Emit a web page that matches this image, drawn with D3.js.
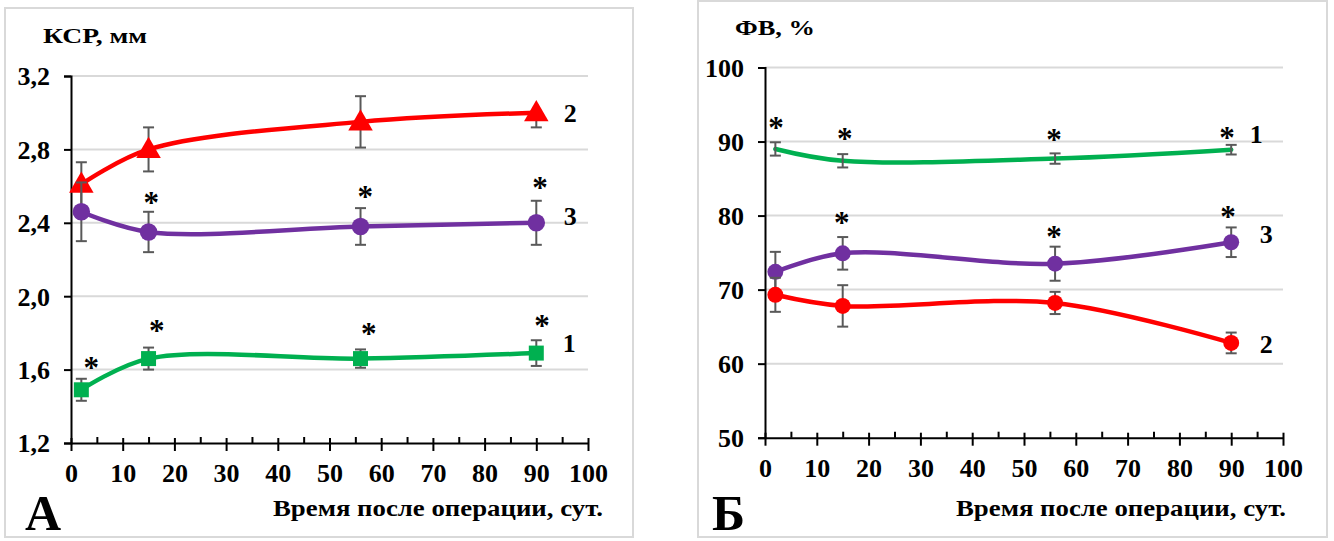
<!DOCTYPE html>
<html>
<head>
<meta charset="utf-8">
<script src="https://cdn.jsdelivr.net/npm/d3@7"></script>
<style>
  body { margin: 0; background: #fff; }
  svg { display: block; }
  svg text { font-family: 'Liberation Serif', 'Times New Roman', serif; font-weight: bold; }
</style>
</head>
<body>
<div id="chart"></div>
<script>
// days after surgery
var days = [2, 15, 56, 90];
var xTickValues = [0, 10, 20, 30, 40, 50, 60, 70, 80, 90, 100];
var xMinorTicks = [5, 15, 25, 35, 45, 55, 65, 75, 85, 95];

// panel A: КСР, мм
var ksrTicks = [1.2, 1.6, 2.0, 2.4, 2.8, 3.2];
var ksr1 = [1.49, 1.66, 1.66, 1.69];
var ksr1Err = [0.06, 0.06, 0.05, 0.07];
var ksr2 = [2.61, 2.80, 2.95, 3.00];
var ksr2ErrUp = [0.12, 0.12, 0.14, 0.01];
var ksr2ErrDown = [0.12, 0.12, 0.14, 0.08];
var ksr3 = [2.46, 2.35, 2.38, 2.40];
var ksr3Err = [0.16, 0.11, 0.10, 0.12];
var ksrStars = [[3.9, 1.64], [16.6, 1.84], [57.6, 1.825], [91.1, 1.87],
                [15.5, 2.54], [56.9, 2.57], [90.7, 2.62]];
var ksrLabels = [['2', 2.996], ['3', 2.434], ['1', 1.742]];

// panel Б: ФВ, %
var fvTicks = [50, 60, 70, 80, 90, 100];
var fv1 = [89.0, 87.4, 87.7, 88.9];
var fv1Err = [0.9, 0.9, 0.7, 0.65];
var fv2 = [69.3, 67.8, 68.2, 62.8];
var fv2Err = [2.3, 2.8, 1.5, 1.4];
var fv3 = [72.4, 74.9, 73.5, 76.4];
var fv3Err = [2.7, 2.2, 2.3, 2.0];
var fvStars = [[2.1, 92.6], [15.4, 91.1], [55.8, 90.9], [89.2, 91.2],
               [14.8, 79.7], [55.8, 77.8], [89.4, 80.5]];
var fvLabels = [['1', 90.95], ['3', 77.45], ['2', 62.7]];

var GREEN = '#00b050', RED = '#ff0000', PURPLE = '#7030a0';
var SERIF = "'Liberation Serif', 'Times New Roman', serif";

(function(){
  'use strict';

  var svg = d3.select('#chart').append('svg').attr('width', 1334).attr('height', 541);

  function styleAxis(a) {
    a.attr('font-family', SERIF).attr('font-size', 26).attr('font-weight', 'bold');
    a.select('.domain').attr('stroke', '#000').attr('stroke-width', 2);
    a.selectAll('.tick line').attr('stroke', '#000').attr('stroke-width', 2);
    a.selectAll('.tick text').attr('font-family', SERIF).attr('font-size', 26).attr('fill', '#000');
  }

  function drawPanel(p) {
    var g = svg.append('g');
    g.append('rect').attr('x', p.frame[0]).attr('y', p.frame[1])
      .attr('width', p.frame[2] - p.frame[0]).attr('height', p.frame[3] - p.frame[1])
      .attr('fill', 'none').attr('stroke', '#d9d9d9').attr('stroke-width', 2);

    var x = d3.scaleLinear().domain([0, 100]).range([p.x0, p.x1]);
    var y = d3.scaleLinear().domain(p.yDomain).range([p.y1, p.y0]);

    // gridlines
    g.selectAll('.grid').data(p.yTicks.slice(1)).enter().append('line')
      .attr('x1', p.x0).attr('x2', p.x1)
      .attr('y1', function(d){ return y(d); }).attr('y2', function(d){ return y(d); })
      .attr('stroke', '#d9d9d9').attr('stroke-width', 2);

    // y axis
    var ya = g.append('g').attr('transform', 'translate(' + p.x0 + ',0)')
      .call(d3.axisLeft(y).tickValues(p.yTicks).tickSize(7).tickFormat(p.yFormat));
    styleAxis(ya);
    ya.selectAll('.tick text').attr('x', -21).attr('dy', '0.34em');

    // x axis, minor ticks inside
    var xm = g.append('g').attr('transform', 'translate(0,' + p.y1 + ')')
      .call(d3.axisBottom(x).tickValues(xMinorTicks).tickSize(-6).tickFormat(''));
    xm.select('.domain').remove();
    xm.selectAll('.tick line').attr('stroke', '#000').attr('stroke-width', 2);

    var xa = g.append('g').attr('transform', 'translate(0,' + p.y1 + ')')
      .call(d3.axisBottom(x).tickValues(xTickValues).tickSize(8).tickSizeOuter(0));
    styleAxis(xa);
    xa.selectAll('.tick line').attr('y1', -5);
    xa.selectAll('.tick text').attr('y', 39).attr('dy', 0);

    // titles
    g.append('text').attr('x', p.yTitle[1]).attr('y', p.yTitle[2])
      .attr('font-size', 22).attr('textLength', p.yTitle[3]).attr('lengthAdjust', 'spacingAndGlyphs')
      .text(p.yTitle[0]);
    g.append('text').attr('x', p.xTitleEnd[0] - 330).attr('y', p.xTitleEnd[1])
      .attr('font-size', 23).attr('textLength', 330).attr('lengthAdjust', 'spacingAndGlyphs')
      .text('Время после операции, сут.');
    g.append('text').attr('x', p.letter[1]).attr('y', p.letter[2])
      .attr('font-size', 50).text(p.letter[0]);

    var line = d3.line()
      .x(function(d){ return x(d[0]); })
      .y(function(d){ return y(d[1]); })
      .curve(d3.curveCatmullRom.alpha(0.5));

    p.series.forEach(function(s) {
      var pts = days.map(function(d, i){ return [d, s.values[i]]; });
      g.append('path').datum(pts).attr('d', line)
        .attr('fill', 'none').attr('stroke', s.color).attr('stroke-width', 4.5)
        .attr('stroke-linecap', 'round');

      var eb = g.append('g').attr('stroke', '#595959').attr('stroke-width', 2);
      days.forEach(function(d, i) {
        var up = s.errUp[i], dn = s.errDown[i];
        var cx = x(d), yt = y(s.values[i] + up), yb = y(s.values[i] - dn);
        eb.append('line').attr('x1', cx).attr('x2', cx).attr('y1', yt).attr('y2', yb);
        eb.append('line').attr('x1', cx - 5.5).attr('x2', cx + 5.5).attr('y1', yt).attr('y2', yt);
        eb.append('line').attr('x1', cx - 5.5).attr('x2', cx + 5.5).attr('y1', yb).attr('y2', yb);
      });

      if (s.marker) {
        var sym = d3.symbol().type(s.marker).size(s.size);
        g.selectAll(null).data(pts).enter().append('path')
          .attr('d', sym)
          .attr('transform', function(d){
            return 'translate(' + x(d[0]) + ',' + (y(d[1]) + (s.marker === d3.symbolTriangle ? 1.5 : 0)) + ')';
          })
          .attr('fill', s.color);
      }
    });

    // significance marks
    g.selectAll(null).data(p.stars).enter().append('text')
      .attr('x', function(d){ return x(d[0]); })
      .attr('y', function(d){ return y(d[1]); })
      .attr('dy', '0.5em').attr('text-anchor', 'middle')
      .attr('font-size', 31).text('*');

    // series numbers
    g.selectAll(null).data(p.labels).enter().append('text')
      .attr('x', function(d, i){ return x(90) + p.labelDx[i]; })
      .attr('y', function(d){ return y(d[1]); })
      .attr('dy', '0.34em').attr('text-anchor', 'middle')
      .attr('font-size', 26).text(function(d){ return d[0]; });
  }

  drawPanel({
    frame: [5, 8, 633, 537],
    x0: 71, x1: 588, y0: 76, y1: 443,
    yDomain: [1.2, 3.2], yTicks: ksrTicks,
    yFormat: function(d){ return d3.format('.1f')(d).replace('.', ','); },
    yTitle: ['КСР, мм', 43, 43, 104],
    xTitleEnd: [603, 516],
    letter: ['А', 25, 530],
    stars: ksrStars, labels: ksrLabels, labelDx: [34, 34, 33],
    series: [
      { values: ksr1, errUp: ksr1Err, errDown: ksr1Err, color: GREEN, marker: d3.symbolSquare, size: 225 },
      { values: ksr2, errUp: ksr2ErrUp, errDown: ksr2ErrDown, color: RED, marker: d3.symbolTriangle, size: 260 },
      { values: ksr3, errUp: ksr3Err, errDown: ksr3Err, color: PURPLE, marker: d3.symbolCircle, size: 240 }
    ]
  });

  drawPanel({
    frame: [698, 1, 1327, 537],
    x0: 765, x1: 1283, y0: 67.5, y1: 437.7,
    yDomain: [50, 100], yTicks: fvTicks,
    yFormat: d3.format('d'),
    yTitle: ['ФВ, %', 735, 35, 80],
    xTitleEnd: [1286, 516],
    letter: ['Б', 712, 530],
    stars: fvStars, labels: fvLabels, labelDx: [25, 35, 35],
    series: [
      { values: fv1, errUp: fv1Err, errDown: fv1Err, color: GREEN, marker: null },
      { values: fv3, errUp: fv3Err, errDown: fv3Err, color: PURPLE, marker: d3.symbolCircle, size: 200 },
      { values: fv2, errUp: fv2Err, errDown: fv2Err, color: RED, marker: d3.symbolCircle, size: 200 }
    ]
  });
})();
</script>
</body>
</html>
